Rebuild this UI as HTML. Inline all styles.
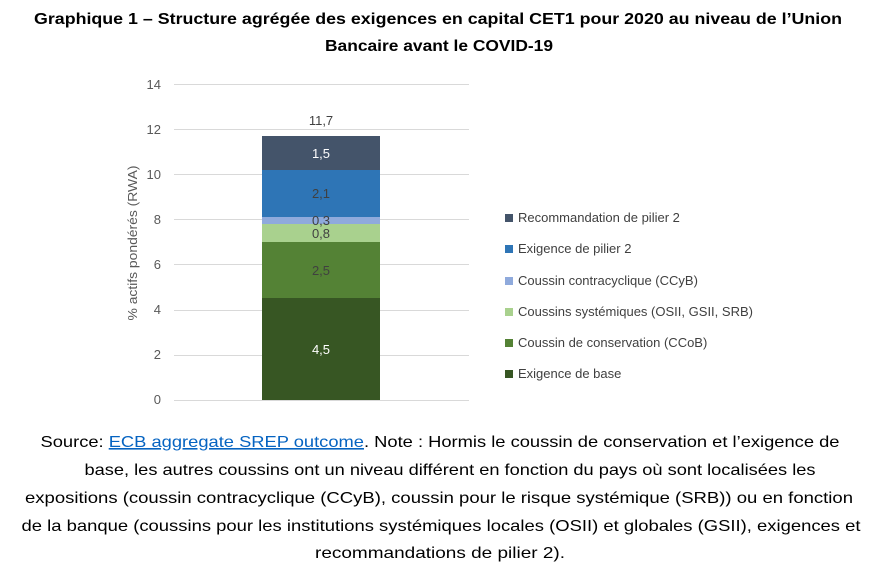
<!DOCTYPE html>
<html><head><meta charset="utf-8"><style>
html,body{margin:0;padding:0;background:#fff;}
svg{display:block;font-family:"Liberation Sans",sans-serif;}
</style></head><body>
<svg width="881" height="566" viewBox="0 0 881 566">
<rect width="881" height="566" fill="#fff"/>
<g font-weight="bold" font-size="16" fill="#000" text-anchor="middle">
<text x="438" y="24" textLength="808" lengthAdjust="spacingAndGlyphs">Graphique 1 – Structure agrégée des exigences en capital CET1 pour 2020 au niveau de l’Union</text>
<text x="439" y="51" textLength="228" lengthAdjust="spacingAndGlyphs">Bancaire avant le COVID-19</text>
</g>
<g stroke="#d9d9d9" stroke-width="1">
<line x1="174" x2="469" y1="84.5" y2="84.5"/>
<line x1="174" x2="469" y1="129.5" y2="129.5"/>
<line x1="174" x2="469" y1="174.5" y2="174.5"/>
<line x1="174" x2="469" y1="219.5" y2="219.5"/>
<line x1="174" x2="469" y1="264.5" y2="264.5"/>
<line x1="174" x2="469" y1="310.5" y2="310.5"/>
<line x1="174" x2="469" y1="355.5" y2="355.5"/>
<line x1="174" x2="469" y1="400.5" y2="400.5"/>
</g>
<g font-size="13" fill="#595959" text-anchor="end">
<text x="161" y="89">14</text><text x="161" y="134">12</text><text x="161" y="179">10</text>
<text x="161" y="224">8</text><text x="161" y="269">6</text><text x="161" y="314">4</text>
<text x="161" y="359">2</text><text x="161" y="404">0</text>
</g>
<text transform="translate(137,243) rotate(-90)" font-size="13" fill="#595959" text-anchor="middle" textLength="155" lengthAdjust="spacingAndGlyphs">% actifs pondérés (RWA)</text>
<rect x="262" y="298" width="118" height="102" fill="#375623"/>
<rect x="262" y="242" width="118" height="56" fill="#548235"/>
<rect x="262" y="224" width="118" height="18" fill="#a9d18e"/>
<rect x="262" y="217" width="118" height="7" fill="#8faadc"/>
<rect x="262" y="170" width="118" height="47" fill="#2e75b6"/>
<rect x="262" y="136" width="118" height="34" fill="#44546a"/>
<g font-size="13" text-anchor="middle">
<text x="321" y="125" fill="#404040">11,7</text>
<text x="321" y="158" fill="#fff">1,5</text>
<text x="321" y="198" fill="#404040">2,1</text>
<text x="321" y="225" fill="#404040">0,3</text>
<text x="321" y="238" fill="#404040">0,8</text>
<text x="321" y="275" fill="#404040">2,5</text>
<text x="321" y="354" fill="#fff">4,5</text>
</g>
<g font-size="13" fill="#404040">
<rect x="505" y="214" width="8" height="8" fill="#44546a"/><text x="518" y="222">Recommandation de pilier 2</text>
<rect x="505" y="245" width="8" height="8" fill="#2e75b6"/><text x="518" y="253">Exigence de pilier 2</text>
<rect x="505" y="277" width="8" height="8" fill="#8faadc"/><text x="518" y="285">Coussin contracyclique (CCyB)</text>
<rect x="505" y="308" width="8" height="8" fill="#a9d18e"/><text x="518" y="316" textLength="235" lengthAdjust="spacingAndGlyphs">Coussins systémiques (OSII, GSII, SRB)</text>
<rect x="505" y="339" width="8" height="8" fill="#548235"/><text x="518" y="347">Coussin de conservation (CCoB)</text>
<rect x="505" y="370" width="8" height="8" fill="#375623"/><text x="518" y="378">Exigence de base</text>
</g>
<g font-size="16" fill="#000" text-anchor="middle">
<text x="440" y="447" textLength="799" lengthAdjust="spacingAndGlyphs">Source: <tspan fill="#0563c1" text-decoration="underline">ECB aggregate SREP outcome</tspan>. Note : Hormis le coussin de conservation et l’exigence de</text>
<text x="450" y="475" textLength="731" lengthAdjust="spacingAndGlyphs">base, les autres coussins ont un niveau différent en fonction du pays où sont localisées les</text>
<text x="439" y="503" textLength="828" lengthAdjust="spacingAndGlyphs">expositions (coussin contracyclique (CCyB), coussin pour le risque systémique (SRB)) ou en fonction</text>
<text x="441" y="531" textLength="839" lengthAdjust="spacingAndGlyphs">de la banque (coussins pour les institutions systémiques locales (OSII) et globales (GSII), exigences et</text>
<text x="440" y="558" textLength="250" lengthAdjust="spacingAndGlyphs">recommandations de pilier 2).</text>
</g>
</svg>
</body></html>
